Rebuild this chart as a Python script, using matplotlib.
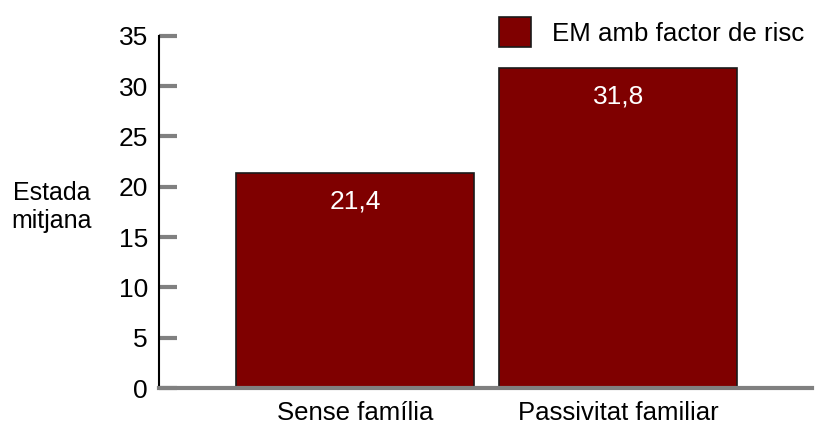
import matplotlib.pyplot as plt

plt.rcParams['font.family'] = ['Liberation Sans', 'DejaVu Sans']

categories = ["Sense família", "Passivitat familiar"]
values = [21.4, 31.8]
labels = ["21,4", "31,8"]
series_name = "EM amb factor de risc"
yticks = [0, 5, 10, 15, 20, 25, 30, 35]

fig = plt.figure(figsize=(8.16, 4.26), dpi=100)
ax = fig.add_axes([0.195, 0.089, 0.800, 0.827])

x = range(len(categories))
bars = ax.bar(x, values, width=0.905, color="#7f0000", edgecolor="#1a1a1a",
              linewidth=1.2, label=series_name)

for b, t in zip(bars, labels):
    ax.annotate(t, (b.get_x() + b.get_width() / 2, b.get_height()),
                xytext=(0, -29), textcoords="offset pixels",
                ha="center", va="center", color="white", fontsize=19)

ax.set_xlim(-0.745, 1.736)
ax.set_ylim(0, 35)
ax.set_yticks(yticks)
ax.set_xticks(list(x))
ax.set_xticklabels(categories, fontsize=18.5)
ax.tick_params(axis="y", direction="out", length=0, labelsize=19, pad=8)
ax.tick_params(axis="x", length=0, pad=9)

# grey tick marks to the right of the axis line
for t in yticks:
    ax.plot([-0.745, -0.745 + 18 / 263], [t, t], color="#808080", lw=3,
            solid_capstyle="butt", clip_on=False, zorder=1)

ax.spines["top"].set_visible(False)
ax.spines["right"].set_visible(False)
ax.spines["left"].set_color("black")
ax.spines["left"].set_linewidth(1.5)
ax.spines["bottom"].set_color("#808080")
ax.spines["bottom"].set_linewidth(3)

fig.text(0.063, 0.515, "Estada\nmitjana", ha="center", va="center",
         fontsize=18, linespacing=1.2)

leg = ax.legend(loc="upper left", bbox_to_anchor=(0.485, 1.12), frameon=False,
                fontsize=18.6, handlelength=1.25, handleheight=1.45, handletextpad=0.8)

fig.savefig("out.png", dpi=100)
